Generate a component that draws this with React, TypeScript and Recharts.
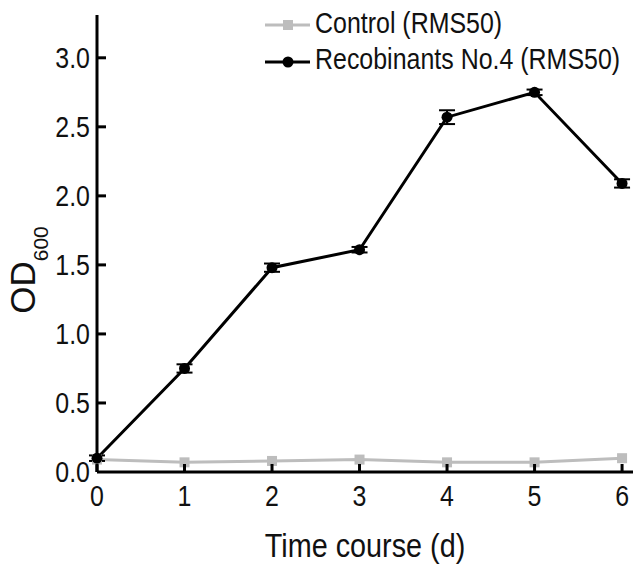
import { LineChart, Line, XAxis, YAxis, ErrorBar, Label } from "recharts";

const days = [0, 1, 2, 3, 4, 5, 6];
const recombinant = [0.1, 0.75, 1.48, 1.61, 2.57, 2.75, 2.09];
const recombinantErr = [0.02, 0.03, 0.03, 0.02, 0.05, 0.02, 0.03];
const control = [0.09, 0.07, 0.08, 0.09, 0.07, 0.07, 0.1];
const yTicks = [0, 0.5, 1, 1.5, 2, 2.5, 3];
const seriesNames = ["Control (RMS50)", "Recobinants No.4 (RMS50)"];

const data = days.map((d, i) => ({
  day: d,
  rec: recombinant[i],
  err: recombinantErr[i],
  ctrl: control[i]
}));

const font = "'Liberation Sans', Arial, sans-serif";
const gray = "#bdbdbd";

// text slightly taller than wide, like the source figure
const Txt = ({ x, y, size, anchor, children }: any) => (
  <g transform={`translate(${x},${y}) scale(0.96,1.12)`}>
    <text textAnchor={anchor} fontSize={size} fontFamily={font} fill="#111">
      {children}
    </text>
  </g>
);

const XTick = ({ x, y, payload }: any) => (
  <g>
    <line x1={x} x2={x} y1={y - 8} y2={y} stroke="#000" strokeWidth={3} />
    <Txt x={x} y={y + 34} size={26} anchor="middle">
      {payload.value}
    </Txt>
  </g>
);

const YTick = ({ x, y, payload }: any) => (
  <g>
    {payload.value > 0 && (
      <line x1={x} x2={x + 9} y1={y} y2={y} stroke="#000" strokeWidth={3} />
    )}
    <Txt x={x - 7} y={y + 10} size={26} anchor="end">
      {payload.value.toFixed(1)}
    </Txt>
  </g>
);

const SquareDot = ({ cx, cy }: any) => (
  <rect x={cx - 5} y={cy - 5} width={10} height={10} fill={gray} />
);

const LegendGraphic = () => (
  <g>
    <line x1={265} x2={310} y1={25} y2={25} stroke={gray} strokeWidth={3} />
    <rect x={283} y={20} width={10} height={10} fill={gray} />
    <Txt x={315} y={33} size={26} anchor="start">{seriesNames[0]}</Txt>
    <line x1={265} x2={310} y1={62} y2={62} stroke="#000" strokeWidth={3} />
    <circle cx={288} cy={62} r={5.5} fill="#000" />
    <Txt x={315} y={69} size={26} anchor="start">{seriesNames[1]}</Txt>
  </g>
);

const YTitle = () => (
  <g>
    <text
      x={35}
      y={270}
      transform="rotate(-90,35,270)"
      textAnchor="middle"
      fontFamily={font}
      fill="#111"
    >
      <tspan fontSize={35}>OD</tspan>
      <tspan fontSize={21} dy={13}>600</tspan>
    </text>
    <LegendGraphic />
  </g>
);

const XTitle = ({ viewBox }: any) => (
  <Txt x={viewBox.x + viewBox.width / 2} y={viewBox.y + 85} size={30} anchor="middle">
    Time course (d)
  </Txt>
);

export default function App() {
  return (
    <div style={{ position: "absolute", left: 0, top: 0, background: "#fff" }}>
      <LineChart
        width={633}
        height={567}
        data={data}
        margin={{ top: 15, right: 0, left: 0, bottom: 0 }}
      >
        <XAxis
          dataKey="day"
          type="number"
          domain={[0, 6.125]}
          ticks={days}
          height={95}
          tickSize={0}
          tickMargin={0}
          tick={<XTick />}
          axisLine={{ stroke: "#000", strokeWidth: 3 }}
        >
          <Label content={<XTitle />} />
        </XAxis>
        <YAxis
          type="number"
          domain={[0, 3.31]}
          ticks={yTicks}
          width={97}
          tickSize={0}
          tickMargin={0}
          tick={<YTick />}
          axisLine={{ stroke: "#000", strokeWidth: 3 }}
        >
          <Label content={<YTitle />} />
        </YAxis>
        <Line
          dataKey="ctrl"
          name={seriesNames[0]}
          stroke={gray}
          strokeWidth={3}
          dot={<SquareDot />}
          isAnimationActive={false}
        />
        <Line
          dataKey="rec"
          name={seriesNames[1]}
          stroke="#000"
          strokeWidth={3}
          dot={{ r: 5.5, fill: "#000", stroke: "#000", strokeWidth: 0 }}
          isAnimationActive={false}
        >
          <ErrorBar dataKey="err" width={8} stroke="#000" strokeWidth={2} direction="y" />
        </Line>
      </LineChart>
    </div>
  );
}
